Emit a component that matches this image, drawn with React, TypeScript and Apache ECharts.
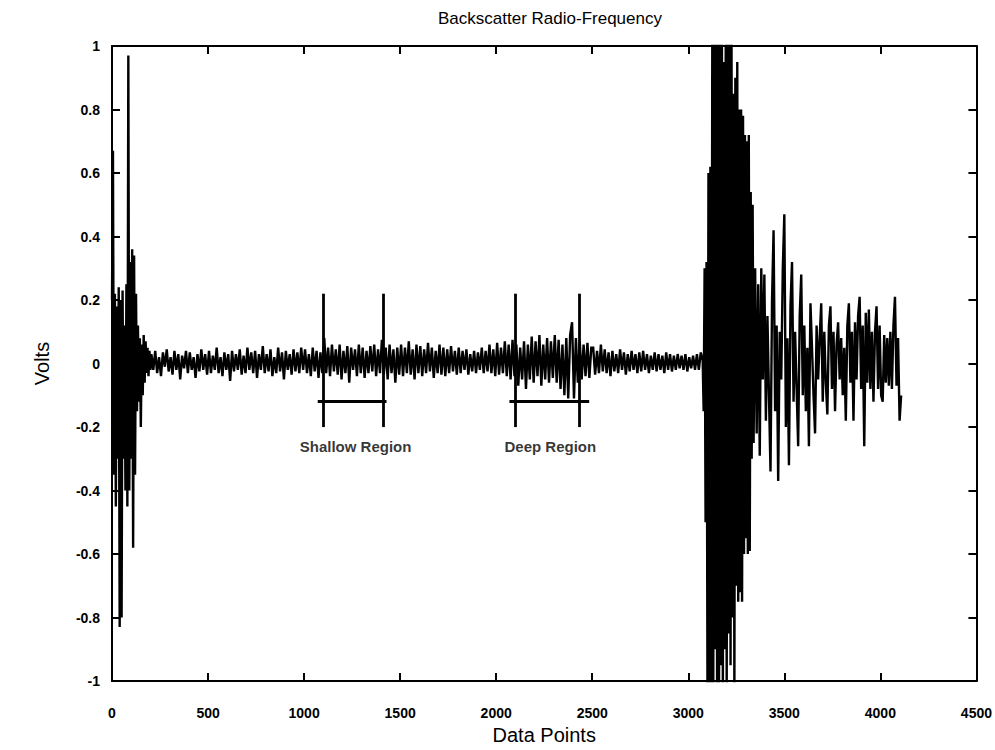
import React, { useEffect, useRef } from "react";
import * as echarts from "echarts";

// ---- Data ----
const xTicks = [0, 500, 1000, 1500, 2000, 2500, 3000, 3500, 4000, 4500];

// initial transmit burst: x from 0, step 5
const earlyBurst = [
  0.2, 0.67, -0.35, 0.22, -0.45, 0.18, -0.3, 0.24, -0.83, 0.2,
  -0.8, 0.23, -0.3, 0.12, -0.4, 0.25, -0.45, 0.97, -0.4, 0.32,
  -0.3, 0.36, -0.58, 0.34, -0.35, 0.22, -0.15, 0.12, -0.12, 0.08,
  -0.2, 0.06, -0.1, 0.09, -0.06, 0.07, -0.03, 0.05, -0.04, 0.04, -0.02,
];

// quiet noise: x from 205, step 10
const quietNoise = [
  0.03, -0.02, 0.04, -0.03, 0.02, -0.04, 0.035, -0.01, 0.045, -0.025,
  0.02, -0.035, 0.04, -0.02, 0.03, -0.05, 0.025, -0.015, 0.04, -0.03,
  0.035, -0.02, 0.02, -0.045, 0.03, -0.025, 0.045, -0.02, 0.03, -0.035,
  0.04, -0.03, 0.025, -0.02, 0.05, -0.03, 0.02, -0.04, 0.035, -0.02,
  0.03, -0.055, 0.04, -0.025, 0.03, -0.02, 0.045, -0.035, 0.025, -0.03,
  0.05, -0.02, 0.035, -0.03, 0.04, -0.045, 0.03, -0.02, 0.055, -0.03,
  0.03, -0.025, 0.045, -0.04, 0.02, -0.03, 0.05, -0.025, 0.035, -0.05,
  0.04, -0.02, 0.03, -0.035, 0.045, -0.025, 0.035, -0.03, 0.05, -0.02,
  0.045, -0.03, 0.03, -0.04, 0.05, -0.025, 0.04, -0.045, 0.035, -0.03,
];

// shallow region noise: x from 1105, step 10
const shallowNoise = [
  0.08, -0.03, 0.05, -0.04, 0.06, -0.025, 0.045, -0.035, 0.06, -0.05,
  0.04, -0.03, 0.055, -0.06, 0.05, -0.02, 0.045, -0.04, 0.06, -0.03,
  0.05, -0.045, 0.04, -0.03, 0.055, -0.025, 0.06, -0.04, 0.045, -0.03,
  0.075, -0.035, 0.05, -0.05, 0.06, -0.03, 0.045, -0.06, 0.05, -0.035,
];

// middle noise: x from 1505, step 10
const middleNoise = [
  0.06, -0.04, 0.05, -0.03, 0.07, -0.035, 0.045, -0.05, 0.06, -0.03,
  0.055, -0.04, 0.045, -0.03, 0.065, -0.025, 0.05, -0.045, 0.04, -0.03,
  0.06, -0.035, 0.05, -0.04, 0.045, -0.03, 0.055, -0.025, 0.04, -0.035,
  0.05, -0.03, 0.04, -0.02, 0.045, -0.035, 0.03, -0.025, 0.04, -0.03,
  0.035, -0.02, 0.05, -0.03, 0.04, -0.025, 0.06, -0.03, 0.045, -0.04,
  0.065, -0.035, 0.05, -0.03, 0.07, -0.04, 0.06, -0.05, 0.075, -0.04,
];

// deep region noise: x from 2105, step 10
const deepNoise = [
  0.06, -0.07, 0.05, -0.05, 0.07, -0.08, 0.06, -0.05, 0.085, -0.06,
  0.07, -0.04, 0.09, -0.07, 0.06, -0.05, 0.08, -0.06, 0.07, -0.045,
  0.09, -0.06, 0.075, -0.08, 0.06, -0.1, 0.08, -0.11, 0.09, 0.13,
  -0.11, 0.08, -0.06, 0.07, -0.05, 0.06, -0.04, 0.065, -0.045, 0.05,
];

// late noise: x from 2505, step 10
const lateNoise = [
  0.05, -0.035, 0.04, -0.03, 0.06, -0.025, 0.045, -0.03, 0.035, -0.04,
  0.04, -0.025, 0.03, -0.03, 0.045, -0.02, 0.035, -0.035, 0.03, -0.025,
  0.04, -0.02, 0.03, -0.03, 0.035, -0.025, 0.04, -0.02, 0.03, -0.03,
  0.025, -0.02, 0.035, -0.025, 0.03, -0.02, 0.025, -0.03, 0.035, -0.02,
  0.03, -0.025, 0.025, -0.02, 0.03, -0.015, 0.025, -0.02, 0.03, -0.025,
  0.02, -0.015, 0.025, -0.02, 0.03, -0.02, 0.035, 0.01,
];

// interface echo burst: x from 3080, step 5
const echoBurst = [
  -0.15, 0.3, -0.5, 0.32, -1.05, 0.6, -1.05, 0.62, -1.05, 1.05,
  -1.05, 1.05, -0.9, 1.05, -1.05, 1.05, -1.05, 1.05, -0.95, 1.05,
  -1.05, 0.95, -0.9, 1.05, -1.05, 1.05, -0.85, 1.05, -0.95, 1.05,
  -0.8, 0.85, -1.05, 0.9, -0.7, 0.95, -0.75, 0.8, -0.72, 0.8,
  -0.75, 0.78, -0.6, 0.72, -0.55, 0.7, -0.6, 0.72, -0.59, 0.54,
  -0.3, 0.5, -0.25,
];

// ringing decay: x from 3348, step 8
const decayTail = [
  0.3, -0.22, 0.25, -0.29, 0.3, -0.05, 0.28, -0.18, 0.15, -0.1,
  -0.34, 0.2, 0.42, -0.15, 0.12, -0.37, 0.1, -0.05, 0.3, 0.47,
  -0.2, 0.08, -0.32, 0.18, 0.32, -0.12, 0.1, -0.08, -0.26, 0.15,
  0.28, -0.1, 0.12, -0.15, 0.05, -0.26, 0.19, 0.05, -0.1, -0.22,
  0.12, -0.05, 0.08, 0.19, -0.12, 0.1, -0.06, -0.16, 0.12, 0.18,
  -0.08, 0.1, -0.15, 0.06, 0.13, -0.05, 0.08, -0.1, 0.05, -0.18,
  0.12, 0.19, -0.06, 0.1, -0.18, 0.13, -0.05, 0.15, 0.21, -0.08,
  0.12, -0.26, 0.16, -0.06, 0.17, -0.08, 0.1, -0.12, 0.1, 0.18,
  -0.08, 0.12, -0.1, -0.12, 0.09, -0.06, 0.08, -0.07, 0.1, -0.08,
  0.12, 0.21, -0.07, 0.08, -0.18, -0.1,
];

const segmentStarts = [0, 205, 1105, 1505, 2105, 2505, 3080, 3348];
const segmentSteps = [5, 10, 10, 10, 10, 10, 5, 8];
const segmentValues = [earlyBurst, quietNoise, shallowNoise, middleNoise, deepNoise, lateNoise, echoBurst, decayTail];

// region annotations
const regionBars = [1102, 1412, 2100, 2432];
const barTop = 0.22;
const barBottom = -0.2;
const bracketY = -0.12;
const brackets = [
  [1071, 1429],
  [2069, 2484],
];
const regionLabels = [
  { name: "Shallow Region", x: 1268, y: -0.262 },
  { name: "Deep Region", x: 2282, y: -0.262 },
];

// ---- build series data ----
const signal: number[][] = [];
segmentValues.forEach((vals, s) => {
  vals.forEach((v, i) => {
    signal.push([segmentStarts[s] + i * segmentSteps[s], v]);
  });
});

const FONT = "Liberation Sans, Arial, Helvetica, sans-serif";

const axisCommon = {
  axisLine: { onZero: false, lineStyle: { color: "#000", width: 2 } },
  axisTick: { inside: true, length: 8, lineStyle: { color: "#000", width: 2 } },
  splitLine: { show: false },
};

export default function App() {
  const ref = useRef<HTMLDivElement>(null);
  useEffect(() => {
    const chart = echarts.init(ref.current!, null, { renderer: "svg" });
    const markLines: any[] = [];
    regionBars.forEach((x) => {
      markLines.push([{ coord: [x, barTop] }, { coord: [x, barBottom] }]);
    });
    brackets.forEach(([a, b]) => {
      markLines.push([{ coord: [a, bracketY] }, { coord: [b, bracketY] }]);
    });
    chart.setOption({
      animation: false,
      backgroundColor: "#fff",
      title: {
        text: "Backscatter Radio-Frequency",
        left: 545,
        textAlign: "center",
        top: 5,
        textStyle: { fontSize: 17, fontWeight: "normal", fontFamily: FONT, color: "#000" },
      },
      grid: { left: 112, right: 17, top: 46, bottom: 67 },
      xAxis: [
        {
          type: "value",
          min: xTicks[0],
          max: xTicks[xTicks.length - 1],
          interval: 500,
          name: "Data Points",
          nameLocation: "middle",
          nameGap: 42,
          nameTextStyle: { fontSize: 20, fontFamily: FONT, color: "#000" },
          axisLabel: {
            margin: 25,
            fontSize: 14,
            color: "#000",
            fontFamily: FONT,
            fontWeight: "bold",
            formatter: (v: number) => String(v),
          },
          ...axisCommon,
        },
        {
          type: "value",
          position: "top",
          min: 0,
          max: 4500,
          interval: 500,
          axisLabel: { show: false },
          ...axisCommon,
        },
      ],
      yAxis: [
        {
          type: "value",
          min: -1,
          max: 1,
          interval: 0.2,
          name: "Volts",
          nameLocation: "middle",
          nameRotate: 90,
          nameGap: 60,
          nameTextStyle: { fontSize: 20, fontFamily: FONT, color: "#000" },
          axisLabel: { margin: 12, fontSize: 14, color: "#000", fontFamily: FONT, fontWeight: "bold" },
          ...axisCommon,
        },
        {
          type: "value",
          position: "right",
          min: -1,
          max: 1,
          interval: 0.2,
          axisLabel: { show: false },
          ...axisCommon,
        },
      ],
      series: [
        {
          type: "line",
          data: signal,
          showSymbol: false,
          symbol: "none",
          clip: true,
          lineStyle: { color: "#000", width: 2.4, join: "miter", miterLimit: 2 },
          markLine: {
            silent: true,
            symbol: ["none", "none"],
            label: { show: false },
            lineStyle: { color: "#000", width: 2.8, type: "solid" },
            data: markLines,
          },
        },
        {
          type: "scatter",
          symbolSize: 0,
          data: regionLabels.map((r) => ({ name: r.name, value: [r.x, r.y] })),
          label: {
            show: true,
            position: "inside",
            formatter: "{b}",
            fontSize: 15,
            fontWeight: "bold",
            fontFamily: FONT,
            color: "#000",
          },
        },
      ],
    });
    return () => chart.dispose();
  }, []);
  return (
    <div
      ref={ref}
      style={{ position: "absolute", left: 0, top: 0, width: 995, height: 750, background: "#fff" }}
    />
  );
}
